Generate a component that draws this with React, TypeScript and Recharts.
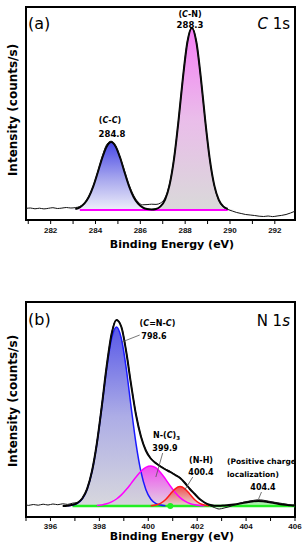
import React from 'react';
import {
  ComposedChart, Area, Line, XAxis, YAxis, ReferenceArea, ReferenceLine, ReferenceDot,
} from 'recharts';

// ---------------- Panel (a): C 1s ----------------
const energyA = [280.9, 281.1, 281.3, 281.5, 281.7, 281.9, 282.1, 282.3, 282.5, 282.7, 282.9, 283.1, 283.3, 283.5, 283.7, 283.9, 284.1, 284.3, 284.5, 284.7, 284.9, 285.1, 285.3, 285.5, 285.7, 285.9, 286.1, 286.3, 286.5, 286.7, 286.9, 287.1, 287.3, 287.5, 287.7, 287.9, 288.1, 288.3, 288.5, 288.7, 288.9, 289.1, 289.3, 289.5, 289.7, 289.9, 290.1, 290.3, 290.5, 290.7, 290.9, 291.1, 291.3, 291.5, 291.7, 291.9, 292.1, 292.3, 292.5, 292.7, 292.9];
const ccA = [0, 0, 0, 0, 0, 0, 0, 0, 0, 0, 0.3, 1.0, 2.7, 6.3, 13.0, 23.6, 37.5, 52.2, 63.6, 68, 63.6, 52.2, 37.5, 23.6, 13.0, 6.3, 2.7, 1.0, 0.3, 0, 0, 0, 0, 0, 0, 0, 0, 0, 0, 0, 0, 0, 0, 0, 0, 0, 0, 0, 0, 0, 0, 0, 0, 0, 0, 0, 0, 0, 0, 0, 0];
const cnA = [0, 0, 0, 0, 0, 0, 0, 0, 0, 0, 0, 0, 0, 0, 0, 0, 0, 0, 0, 0, 0, 0, 0, 0, 0, 0, 0, 0, 0.3, 1.1, 3.6, 10.2, 24.6, 50.6, 88.6, 132.1, 168.0, 182, 168.0, 132.1, 88.6, 50.6, 24.6, 10.2, 3.6, 1.1, 0.3, 0, 0, 0, 0, 0, 0, 0, 0, 0, 0, 0, 0, 0, 0];
const envA = [null, null, null, null, null, null, null, null, null, null, null, 1.0, 2.7, 6.3, 13.0, 23.6, 37.5, 52.2, 63.6, 68, 63.6, 52.2, 37.5, 23.6, 13.0, 6.3, 2.7, 1.0, 0.6, 1.1, 3.6, 10.2, 24.6, 50.6, 88.6, 132.1, 168.0, 182, 168.0, 132.1, 88.6, 50.6, 24.6, 10.2, 3.6, 1.1, null, null, null, null, null, null, null, null, null, null, null, null, null, null, null];
const rawA = [1.6, 2.0, 1.2, 1.8, 1.1, 1.7, 2.3, 1.5, 1.9, 2.5, 2.0, 2.4, 3.5, 7.0, 13.6, 24.2, 38.2, 53.3, 65.5, 68.8, 64.0, 52.8, 38.8, 25.0, 14.6, 8.0, 5.2, 5.4, 5.8, 5.6, 7.0, 12.0, 25.8, 51.2, 89.0, 132.5, 168.5, 182.5, 168.2, 131.8, 88.3, 50.2, 24.2, 9.6, 3.0, 0.6, -1.0, -2.5, -3.5, -4.5, -5.0, -5.5, -6.2, -6.5, -6.0, -6.6, -6.0, -5.4, -4.5, -3.0, -1.2];
const baseA = [null, null, null, null, null, null, null, null, null, null, null, null, 0, 0, 0, 0, 0, 0, 0, 0, 0, 0, 0, 0, 0, 0, 0, 0, 0, 0, 0, 0, 0, 0, 0, 0, 0, 0, 0, 0, 0, 0, 0, 0, 0, 0, null, null, null, null, null, null, null, null, null, null, null, null, null, null, null];
const ticksA = [281, 282, 283, 284, 285, 286, 287, 288, 289, 290, 291, 292];
const domainA = [280.9, 292.9];
const yDomainA = [-10, 203];

// ---------------- Panel (b): N 1s ----------------
const energyB = [395.0, 395.1, 395.3, 395.5, 395.7, 395.9, 396.1, 396.3, 396.5, 396.7, 396.9, 397.1, 397.3, 397.5, 397.7, 397.9, 398.1, 398.3, 398.5, 398.7, 398.9, 399.1, 399.3, 399.5, 399.7, 399.9, 400.1, 400.3, 400.5, 400.7, 400.9, 401.1, 401.3, 401.5, 401.7, 401.9, 402.1, 402.3, 402.5, 402.7, 402.9, 403.1, 403.3, 403.5, 403.7, 403.9, 404.1, 404.3, 404.5, 404.7, 404.9, 405.1, 405.3, 405.5, 405.7, 405.9, 406.0];
const blueB = [0, 0, 0, 0, 0, 0, 0, 0, 0, 0.2, 0.9, 2.6, 7.0, 16.5, 34.3, 62.1, 98.7, 137.5, 167.5, 179, 167.5, 137.5, 98.7, 62.1, 34.3, 16.5, 7.0, 2.6, 0.9, 0.2, 0, 0, 0, 0, 0, 0, 0, 0, 0, 0, 0, 0, 0, 0, 0, 0, 0, 0, 0, 0, 0, 0, 0, 0, 0, 0, 0];
const magB = [0, 0, 0, 0, 0, 0, 0, 0, 0, 0, 0, 0, 0, 0, 0, 0.5, 1.1, 2.2, 4.1, 7.0, 11.1, 16.4, 22.6, 29.0, 34.7, 38.6, 40, 38.3, 33.6, 27.1, 20.0, 13.6, 8.4, 4.8, 2.5, 1.2, 0.5, 0.2, 0, 0, 0, 0, 0, 0, 0, 0, 0, 0, 0, 0, 0, 0, 0, 0, 0, 0, 0];
const redB = [0, 0, 0, 0, 0, 0, 0, 0, 0, 0, 0, 0, 0, 0, 0, 0, 0, 0, 0, 0, 0, 0, 0, 0, 0, 0, 0.2, 0.9, 2.6, 6.3, 11.8, 17.2, 19.5, 17.2, 11.8, 6.3, 2.6, 0.9, 0.2, 0, 0, 0, 0, 0, 0, 0, 0, 0, 0, 0, 0, 0, 0, 0, 0, 0, 0];
const greenB = [0, 0, 0, 0, 0, 0, 0, 0, 0, 0, 0, 0, 0, 0, 0, 0, 0, 0, 0, 0, 0, 0, 0, 0, 0, 0, 0, 0, 0, 0, 0, 0, 0, 0, 0, 0, 0, 0, 0, 0, 0.2, 0.5, 0.9, 1.5, 2.3, 3.3, 4.1, 4.8, 5.0, 4.8, 4.1, 3.3, 2.3, 1.5, 0.9, 0.5, 0.3];
const envB = [null, null, null, null, null, null, null, null, 0, 0.3, 1.2, 3.0, 7.5, 17.2, 35.0, 63.0, 100.0, 140.0, 172.0, 186.0, 179.0, 154.0, 121.0, 91.0, 69.5, 55.5, 47.5, 43.0, 39.5, 36.5, 34.0, 31.0, 28.0, 23.0, 17.0, 12.0, 7.0, 3.5, 1.2, 0.3, 0.2, 0.5, 0.9, 1.5, 2.3, 3.3, 4.1, 4.8, 5.0, 4.8, 4.1, 3.3, 2.3, 1.5, 0.9, 0.5, 0.3];
const rawB = [1.2, 0.6, 1.5, 0.8, 1.8, 1.0, 2.0, 1.3, 2.2, 1.6, 2.8, 3.6, 8.0, 17.8, 35.5, 63.5, 100.5, 140.5, 172.5, 186.5, 179.5, 154.5, 121.5, 91.5, 70.0, 56.0, 48.0, 43.5, 40.0, 37.0, 34.5, 31.5, 28.5, 23.5, 17.5, 12.5, 7.2, 3.2, 0.6, -1.5, -3.0, -2.0, -0.8, 0.8, 2.4, 3.8, 4.8, 5.6, 6.2, 5.8, 4.9, 4.0, 3.2, 2.4, 1.6, 1.0, 0.8];
const baseB = [null, null, null, null, null, null, null, null, null, null, 0, 0, 0, 0, 0, 0, 0, 0, 0, 0, 0, 0, 0, 0, 0, 0, 0, 0, 0, 0, 0, 0, 0, 0, 0, 0, 0, 0, 0, 0, 0, 0, 0, 0, 0, 0, 0, 0, 0, 0, 0, 0, 0, 0, 0, 0, 0];
const ticksB = [395, 396, 397, 398, 399, 400, 401, 402, 403, 404, 405, 406];
const domainB = [395, 406];
const yDomainB = [-11, 204];
const dotB = [{ x: 400.9, y: 0 }];
const leadersB = [
  { x1: 398.92, y1: 164, x2: 399.65, y2: 171 },
  { x1: 400.59, y1: 53, x2: 400.31, y2: 29 },
  { x1: 401.82, y1: 29, x2: 401.49, y2: 16 },
  { x1: 404.63, y1: 14, x2: 404.51, y2: 7 },
];

const pos = (v: number) => (v > 0 ? v : null);

const tableA = energyA.map((e, i) => ({
  e, cc: ccA[i], cn: cnA[i], env: envA[i], raw: rawA[i], base: baseA[i],
}));
const tableB = energyB.map((e, i) => ({
  e,
  blue: blueB[i], mag: magB[i], red: redB[i], green: greenB[i],
  blueL: pos(blueB[i]), magL: pos(magB[i]), redL: pos(redB[i]),
  env: envB[i], raw: rawB[i], base: baseB[i],
}));

const evenFmt = (v: number) => (v % 2 === 0 ? String(v) : '');
const tickStyle = { fontSize: 8, fontFamily: "'Liberation Sans', Arial, sans-serif", fontWeight: 'bold', fill: '#111' };
const F = "'DejaVu Sans', sans-serif";

export default function App() {
  return (
    <div style={{ position: 'absolute', left: 0, top: 0, width: 308, height: 550, background: '#fff' }}>
      <div style={{ position: 'absolute', left: 0, top: 0 }}>
        <ComposedChart width={308} height={260} data={tableA} margin={{ top: 7, right: 13, bottom: 0, left: 26 }}>
          <defs>
            <linearGradient id="gCC" x1="0" y1="0" x2="0" y2="1">
              <stop offset="0%" stopColor="#4646e6" />
              <stop offset="55%" stopColor="#a8a8ee" />
              <stop offset="100%" stopColor="#eeeefa" />
            </linearGradient>
            <linearGradient id="gCN" x1="0" y1="0" x2="0" y2="1">
              <stop offset="0%" stopColor="#f47ef4" />
              <stop offset="50%" stopColor="#eabdea" />
              <stop offset="100%" stopColor="#d9d9d9" />
            </linearGradient>
          </defs>
          <XAxis dataKey="e" type="number" domain={domainA} allowDataOverflow ticks={ticksA} interval={0}
            tickFormatter={evenFmt} height={40} axisLine={{ stroke: '#000', strokeWidth: 2 }}
            tickLine={{ stroke: '#000' }} tickSize={4} tickMargin={3} tick={tickStyle} />
          <YAxis hide type="number" domain={yDomainA} allowDataOverflow />
          <Area dataKey="cc" type="monotone" fill="url(#gCC)" fillOpacity={1} stroke="none" baseValue={0} isAnimationActive={false} />
          <Area dataKey="cn" type="monotone" fill="url(#gCN)" fillOpacity={1} stroke="none" baseValue={0} isAnimationActive={false} />
          <Line dataKey="base" type="linear" stroke="#ff00ff" strokeWidth={2} dot={false} activeDot={false} isAnimationActive={false} />
          <Line dataKey="env" type="monotone" stroke="#000" strokeWidth={2} dot={false} activeDot={false} isAnimationActive={false} />
          <Line dataKey="raw" type="monotone" stroke="#111" strokeWidth={1} dot={false} activeDot={false} isAnimationActive={false} />
          <ReferenceArea x1={domainA[0]} x2={domainA[1]} y1={yDomainA[0]} y2={yDomainA[1]} fill="none" fillOpacity={0} stroke="#000" strokeWidth={2} ifOverflow="visible" />
        </ComposedChart>
      </div>
      <div style={{ position: 'absolute', left: 0, top: 290 }}>
        <ComposedChart width={308} height={260} data={tableB} margin={{ top: 12, right: 13, bottom: 0, left: 26 }}>
          <defs>
            <linearGradient id="gBlue" x1="0" y1="0" x2="0" y2="1">
              <stop offset="0%" stopColor="#4a4ae6" />
              <stop offset="50%" stopColor="#a6a6e4" />
              <stop offset="100%" stopColor="#d4d4da" />
            </linearGradient>
            <linearGradient id="gMag" x1="0" y1="0" x2="0" y2="1">
              <stop offset="0%" stopColor="#ee4cee" />
              <stop offset="100%" stopColor="#e2d2e2" />
            </linearGradient>
            <linearGradient id="gRed" x1="0" y1="0" x2="0" y2="1">
              <stop offset="0%" stopColor="#ee3a3a" />
              <stop offset="100%" stopColor="#e6d2d2" />
            </linearGradient>
            <linearGradient id="gGreen" x1="0" y1="0" x2="0" y2="1">
              <stop offset="0%" stopColor="#8ee88e" />
              <stop offset="100%" stopColor="#d2f2d2" />
            </linearGradient>
          </defs>
          <XAxis dataKey="e" type="number" domain={domainB} allowDataOverflow ticks={ticksB} interval={0}
            tickFormatter={evenFmt} height={33} axisLine={{ stroke: '#000', strokeWidth: 2 }}
            tickLine={{ stroke: '#000' }} tickSize={4} tickMargin={2} tick={tickStyle} />
          <YAxis hide type="number" domain={yDomainB} allowDataOverflow />
          <Area dataKey="mag" type="monotone" fill="url(#gMag)" fillOpacity={1} stroke="none" baseValue={0} isAnimationActive={false} />
          <Area dataKey="red" type="monotone" fill="url(#gRed)" fillOpacity={0.9} stroke="none" baseValue={0} isAnimationActive={false} />
          <Area dataKey="green" type="monotone" fill="url(#gGreen)" fillOpacity={1} stroke="none" baseValue={0} isAnimationActive={false} />
          <Area dataKey="blue" type="monotone" fill="url(#gBlue)" fillOpacity={0.92} stroke="none" baseValue={0} isAnimationActive={false} />
          <Line dataKey="base" type="linear" stroke="#22ee22" strokeWidth={2.5} dot={false} activeDot={false} isAnimationActive={false} />
          <Line dataKey="blueL" type="monotone" stroke="#1a1aff" strokeWidth={1.5} dot={false} activeDot={false} isAnimationActive={false} />
          <Line dataKey="magL" type="monotone" stroke="#ff00ff" strokeWidth={1.5} dot={false} activeDot={false} isAnimationActive={false} />
          <Line dataKey="redL" type="monotone" stroke="#ff1a1a" strokeWidth={1.5} dot={false} activeDot={false} isAnimationActive={false} />
          <Line dataKey="env" type="monotone" stroke="#000" strokeWidth={2} dot={false} activeDot={false} isAnimationActive={false} />
          <Line dataKey="raw" type="monotone" stroke="#111" strokeWidth={1} dot={false} activeDot={false} isAnimationActive={false} />
          {leadersB.map((l, i) => (
            <ReferenceLine key={i} segment={[{ x: l.x1, y: l.y1 }, { x: l.x2, y: l.y2 }]} stroke="#555" strokeWidth={0.8} ifOverflow="visible" />
          ))}
          {dotB.map((d, i) => (
            <ReferenceDot key={i} x={d.x} y={d.y} r={3} fill="#22ee22" stroke="none" ifOverflow="visible" />
          ))}
          <ReferenceArea x1={domainB[0]} x2={domainB[1]} y1={yDomainB[0]} y2={yDomainB[1]} fill="none" fillOpacity={0} stroke="#000" strokeWidth={2} ifOverflow="visible" />
        </ComposedChart>
      </div>
      <svg width={308} height={550} style={{ position: 'absolute', left: 0, top: 0, pointerEvents: 'none' }} fontFamily={F}>
        {/* panel a */}
        <text x={28} y={29} fontSize={16}>(a)</text>
        <text x={290} y={29} fontSize={15} textAnchor="end"><tspan fontStyle="italic">C</tspan> 1s</text>
        <text x={190} y={17} fontSize={8} fontWeight="bold" textAnchor="middle">(<tspan fontStyle="italic">C</tspan>-N)</text>
        <text x={190} y={27.5} fontSize={8.5} fontWeight="bold" textAnchor="middle">288.3</text>
        <text x={110} y={123} fontSize={8} fontWeight="bold" textAnchor="middle">(<tspan fontStyle="italic">C</tspan>-<tspan fontStyle="italic">C</tspan>)</text>
        <text x={112} y={137} fontSize={8.5} fontWeight="bold" textAnchor="middle">284.8</text>
        <text x={172} y={248} fontSize={11} fontWeight="bold" textAnchor="middle">Binding Energy (eV)</text>
        <text transform="translate(13,110) rotate(-90)" fontSize={12} fontWeight="bold" textAnchor="middle" dominantBaseline="central">Intensity (counts/s)</text>
        {/* panel b */}
        <text x={28} y={325} fontSize={16}>(b)</text>
        <text x={290} y={326} fontSize={15} textAnchor="end">N 1<tspan fontStyle="italic">s</tspan></text>
        <text x={157.5} y={326} fontSize={8} fontWeight="bold" textAnchor="middle">(<tspan fontStyle="italic">C</tspan>=N-<tspan fontStyle="italic">C</tspan>)</text>
        <text x={154} y={339} fontSize={8} fontWeight="bold" textAnchor="middle">798.6</text>
        <text x={153} y={438} fontSize={8} fontWeight="bold">N-(<tspan fontStyle="italic">C</tspan>)<tspan fontSize={5.5} dy={2}>3</tspan></text>
        <text x={165} y={451} fontSize={8} fontWeight="bold" textAnchor="middle">399.9</text>
        <text x={201} y={463} fontSize={8} fontWeight="bold" textAnchor="middle">(N-H)</text>
        <text x={201} y={475} fontSize={8} fontWeight="bold" textAnchor="middle">400.4</text>
        <text x={227} y={464} fontSize={7.5} fontWeight="bold">(Positive charge</text>
        <text x={227} y={477} fontSize={7.5} fontWeight="bold">localization)</text>
        <text x={263} y={490} fontSize={8} fontWeight="bold" textAnchor="middle">404.4</text>
        <text x={172} y={540} fontSize={11} fontWeight="bold" textAnchor="middle">Binding Energy (eV)</text>
        <text transform="translate(13,401) rotate(-90)" fontSize={12} fontWeight="bold" textAnchor="middle" dominantBaseline="central">Intensity (counts/s)</text>
      </svg>
    </div>
  );
}
